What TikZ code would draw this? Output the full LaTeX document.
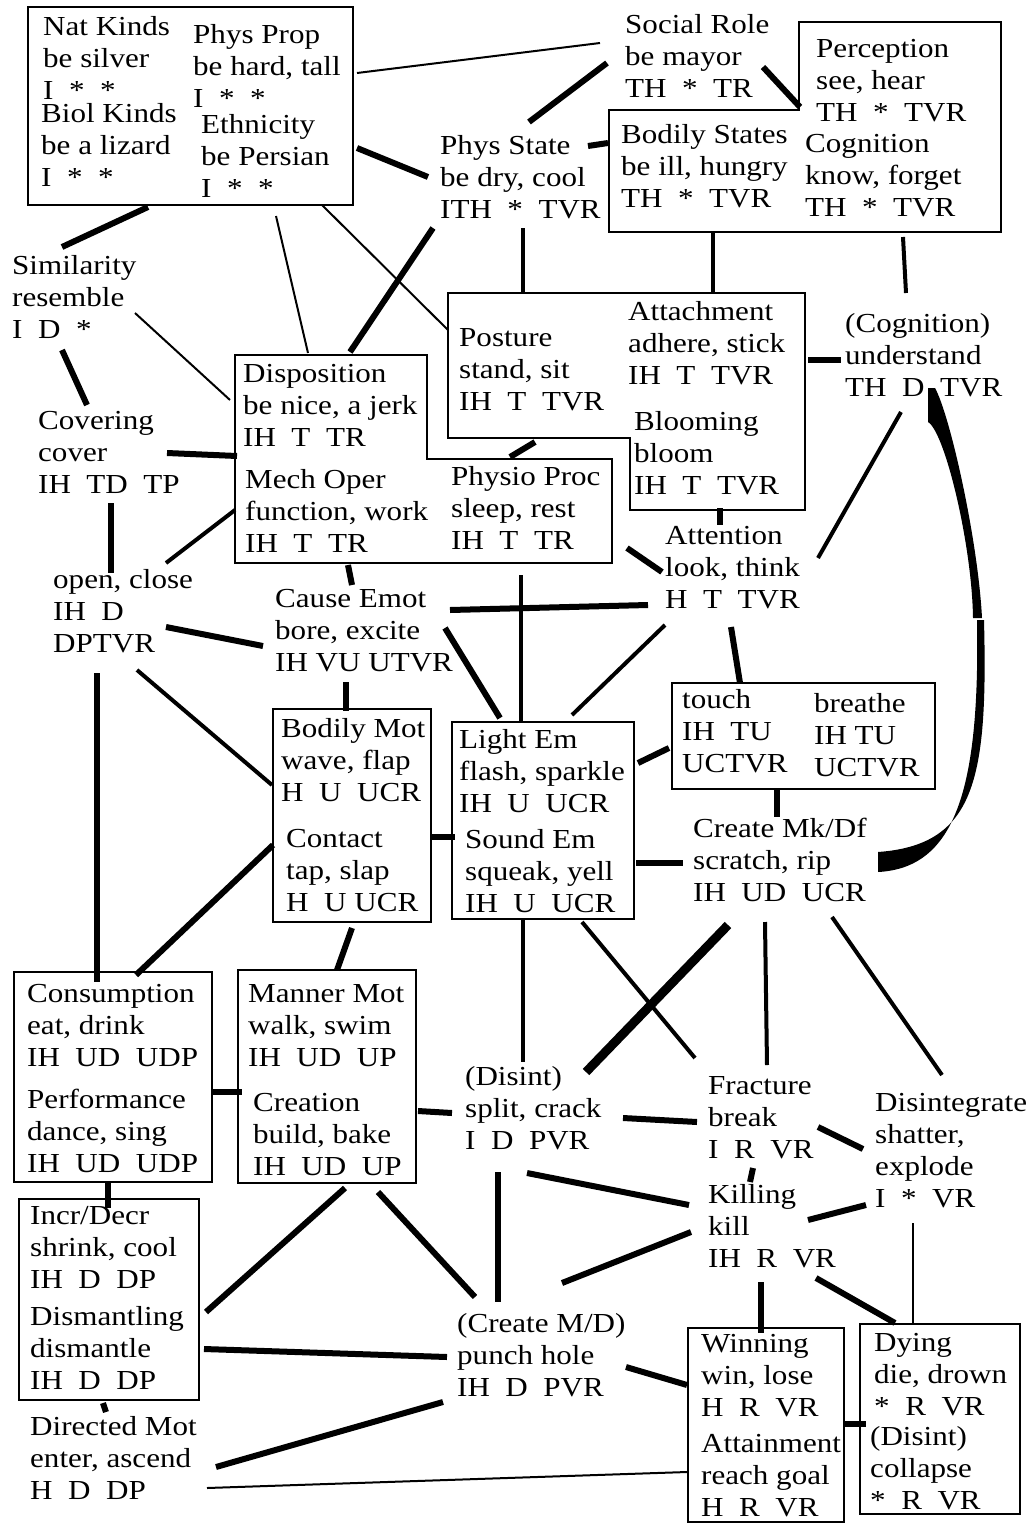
\documentclass[tikz,border=0pt]{standalone}
\usepackage{fontspec}
\setmainfont{Liberation Serif}[FakeStretch=1.13]
\tikzstyle{cat} = [anchor=north west, inner sep=0pt, align=left]
\tikzstyle{frame} = [draw, line width=2.5pt]
\tikzstyle{thin link} = [draw, line width=2pt]
\tikzstyle{mid link} = [draw, line width=4pt]
\tikzstyle{thick link} = [draw, line width=6pt]
\tikzstyle{heavy link} = [draw, line width=9pt]

\begin{document}
\begin{tikzpicture}[x=1pt, y=-1pt, font=\fontsize{27.5}{32}\selectfont]
                    \useasboundingbox (0,0) rectangle (1028,1524);

                    \draw[frame] (28,7) rectangle (353,205);
                    \draw[frame] (799,22) -- (1001,22) -- (1001,232) -- (609,232) -- (609,110) -- (799,110) -- cycle;
                    \draw[frame] (448,293) -- (805,293) -- (805,510) -- (630,510) -- (630,438) -- (448,438) -- cycle;
                    \draw[frame] (235,355) -- (427,355) -- (427,459) -- (612,459) -- (612,563) -- (235,563) -- cycle;
                    \draw[frame] (672,683) rectangle (935,789);
                    \draw[frame] (273,709) rectangle (431,922);
                    \draw[frame] (452,722) rectangle (634,919);
                    \draw[frame] (14,972) rectangle (212,1182);
                    \draw[frame] (238,970) rectangle (416,1183);
                    \draw[frame] (19,1199) rectangle (199,1400);
                    \draw[frame] (688,1328) rectangle (844,1522);
                    \draw[frame] (860,1324) rectangle (1020,1514);

                    \node[cat] (natkinds) at (43,16) {Nat Kinds\\be silver\\I~~*~~*};
                    \node[cat] (biolkinds) at (41,103) {Biol Kinds\\be a lizard\\I~~*~~*};
                    \node[cat] (physprop) at (193,24) {Phys Prop\\be hard, tall\\I~~*~~*};
                    \node[cat] (ethnicity) at (201,114) {Ethnicity\\be Persian\\I~~*~~*};
                    \node[cat] (socialrole) at (625,14) {Social Role\\be mayor\\TH~~*~~TR};
                    \node[cat] (perception) at (816,39) {Perception\\see, hear\\TH~~*~~TVR};
                    \node[cat] (bodilystates) at (621,124) {Bodily States\\be ill, hungry\\TH~~*~~TVR};
                    \node[cat] (cognition) at (805,134) {Cognition\\know, forget\\TH~~*~~TVR};
                    \node[cat] (physstate) at (440,135) {Phys State\\be dry, cool\\ITH~~*~~TVR};
                    \node[cat] (similarity) at (12,255) {Similarity\\resemble\\I~~D~~*};
                    \node[cat] (posture) at (459,328) {Posture\\stand, sit\\IH~~T~~TVR};
                    \node[cat] (attachment) at (628,301) {Attachment\\adhere, stick\\IH~~T~~TVR};
                    \node[cat] (blooming) at (634,411) {Blooming\\bloom\\IH~~T~~TVR};
                    \node[cat] (understand) at (845,313) {(Cognition)\\understand\\TH~~D~~TVR};
                    \node[cat] (disposition) at (243,364) {Disposition\\be nice, a jerk\\IH~~T~~TR};
                    \node[cat] (mechoper) at (245,469) {Mech Oper\\function, work\\IH~~T~~TR};
                    \node[cat] (physioproc) at (451,466) {Physio Proc\\sleep, rest\\IH~~T~~TR};
                    \node[cat] (covering) at (38,411) {Covering\\cover\\IH~~TD~~TP};
                    \node[cat] (openclose) at (53,569) {open, close\\IH~~D\\DPTVR};
                    \node[cat] (causeemot) at (275,589) {Cause Emot\\bore, excite\\IH VU UTVR};
                    \node[cat] (attention) at (665,526) {Attention\\look, think\\H~~T~~TVR};
                    \node[cat] (touch) at (682,689) {touch\\IH~~TU\\UCTVR};
                    \node[cat] (breathe) at (814,693) {breathe\\IH TU\\UCTVR};
                    \node[cat] (bodilymot) at (281,718) {Bodily Mot\\wave, flap\\H~~U~~UCR};
                    \node[cat] (contact) at (286,829) {Contact\\tap, slap\\H~~U UCR};
                    \node[cat] (lightem) at (459,729) {Light Em\\flash, sparkle\\IH~~U~~UCR};
                    \node[cat] (soundem) at (465,829) {Sound Em\\squeak, yell\\IH~~U~~UCR};
                    \node[cat] (createmkdf) at (693,818) {Create Mk/Df\\scratch, rip\\IH~~UD~~UCR};
                    \node[cat] (consumption) at (27,984) {Consumption\\eat, drink\\IH~~UD~~UDP};
                    \node[cat] (performance) at (27,1089) {Performance\\dance, sing\\IH~~UD~~UDP};
                    \node[cat] (mannermot) at (248,984) {Manner Mot\\walk, swim\\IH~~UD~~UP};
                    \node[cat] (creation) at (253,1093) {Creation\\build, bake\\IH~~UD~~UP};
                    \node[cat] (disintsplit) at (465,1066) {(Disint)\\split, crack\\I~~D~~PVR};
                    \node[cat] (fracture) at (708,1076) {Fracture\\break\\I~~R~~VR};
                    \node[cat] (disintegrate) at (875,1093) {Disintegrate\\shatter,\\explode\\I~~*~~VR};
                    \node[cat] (killing) at (708,1184) {Killing\\kill\\IH~~R~~VR};
                    \node[cat] (incrdecr) at (30,1206) {Incr/Decr\\shrink, cool\\IH~~D~~DP};
                    \node[cat] (dismantling) at (30,1306) {Dismantling\\dismantle\\IH~~D~~DP};
                    \node[cat] (directedmot) at (30,1416) {Directed Mot\\enter, ascend\\H~~D~~DP};
                    \node[cat] (createmd) at (457,1313) {(Create M/D)\\punch hole\\IH~~D~~PVR};
                    \node[cat] (winning) at (701,1334) {Winning\\win, lose\\H~~R~~VR};
                    \node[cat] (attainment) at (701,1434) {Attainment\\reach goal\\H~~R~~VR};
                    \node[cat] (dying) at (874,1333) {Dying\\die, drown\\*~~R~~VR};
                    \node[cat] (collapse) at (870,1426) {(Disint)\\collapse\\*~~R~~VR};

                    \draw[thin link] ([shift={(164,49)}]physprop.north west) -- ([shift={(-25,29)}]socialrole.north west);
                    \draw[thick link] ([shift={(156,34)}]ethnicity.north west) -- ([shift={(-12,42)}]physstate.north west);
                    \draw[thick link] ([shift={(107,104)}]biolkinds.north west) -- ([shift={(50,-8)}]similarity.north west);
                    \draw[thin link] ([shift={(75,102)}]ethnicity.north west) -- ([shift={(65,-11)}]disposition.north west);
                    \draw[thin link] ([shift={(121,91)}]ethnicity.north west) -- ([shift={(-11,2)}]posture.north west);
                    \draw[thick link] ([shift={(-18,49)}]socialrole.north west) -- ([shift={(89,-13)}]physstate.north west);
                    \draw[thick link] ([shift={(138,53)}]socialrole.north west) -- ([shift={(-16,68)}]perception.north west);
                    \draw[thick link] ([shift={(148,11)}]physstate.north west) -- ([shift={(-13,19)}]bodilystates.north west);
                    \draw[mid link] ([shift={(83,93)}]physstate.north west) -- ([shift={(64,-36)}]posture.north west);
                    \draw[mid link] ([shift={(92,108)}]bodilystates.north west) -- ([shift={(85,-8)}]attachment.north west);
                    \draw[mid link] ([shift={(98,103)}]cognition.north west) -- ([shift={(61,-20)}]understand.north west);
                    \draw[thick link] ([shift={(180,59)}]attachment.north west) -- ([shift={(-4,47)}]understand.north west);
                    \draw[thick link] ([shift={(-7,93)}]physstate.north west) -- ([shift={(107,-12)}]disposition.north west);
                    \draw[thin link] ([shift={(123,58)}]similarity.north west) -- ([shift={(-13,36)}]disposition.north west);
                    \draw[thick link] ([shift={(50,95)}]similarity.north west) -- ([shift={(49,-6)}]covering.north west);
                    \draw[thick link] ([shift={(129,42)}]covering.north west) -- ([shift={(-6,92)}]disposition.north west);
                    \draw[thick link] ([shift={(73,92)}]covering.north west) -- ([shift={(58,4)}]openclose.north west);
                    \draw[mid link] ([shift={(113,-6)}]openclose.north west) -- ([shift={(-10,41)}]mechoper.north west);
                    \draw[thick link] ([shift={(103,96)}]mechoper.north west) -- ([shift={(77,-4)}]causeemot.north west);
                    \draw[thick link] ([shift={(113,58)}]openclose.north west) -- ([shift={(-12,57)}]causeemot.north west);
                    \draw[thick link] ([shift={(44,104)}]openclose.north west) -- ([shift={(70,-2)}]consumption.north west);
                    \draw[mid link] ([shift={(84,101)}]openclose.north west) -- ([shift={(-9,67)}]bodilymot.north west);
                    \draw[thick link] ([shift={(71,93)}]causeemot.north west) -- ([shift={(65,-7)}]bodilymot.north west);
                    \draw[thick link] ([shift={(170,39)}]causeemot.north west) -- ([shift={(41,-11)}]lightem.north west);
                    \draw[thick link] ([shift={(175,21)}]causeemot.north west) -- ([shift={(-17,79)}]attention.north west);
                    \draw[mid link] ([shift={(70,109)}]physioproc.north west) -- ([shift={(62,-6)}]lightem.north west);
                    \draw[thick link] ([shift={(76,114)}]posture.north west) -- ([shift={(59,-9)}]physioproc.north west);
                    \draw[thick link] ([shift={(176,82)}]physioproc.north west) -- ([shift={(-3,46)}]attention.north west);
                    \draw[thick link] ([shift={(86,97)}]blooming.north west) -- ([shift={(55,-1)}]attention.north west);
                    \draw[mid link] ([shift={(56,99)}]understand.north west) -- ([shift={(153,32)}]attention.north west);
                    \draw[mid link] ([shift={(0,99)}]attention.north west) -- ([shift={(113,-14)}]lightem.north west);
                    \draw[thick link] ([shift={(66,101)}]attention.north west) -- ([shift={(58,-6)}]touch.north west);
                    \draw[thick link] ([shift={(179,34)}]lightem.north west) -- ([shift={(-13,59)}]touch.north west);
                    \draw[thick link] ([shift={(145,8)}]contact.north west) -- ([shift={(-10,8)}]soundem.north west);
                    \draw[thick link] ([shift={(-13,16)}]contact.north west) -- ([shift={(109,-9)}]consumption.north west);
                    \draw[thick link] ([shift={(66,99)}]contact.north west) -- ([shift={(89,-14)}]mannermot.north west);
                    \draw[thick link] ([shift={(95,100)}]touch.north west) -- ([shift={(84,-1)}]createmkdf.north west);
                    \draw[thick link] ([shift={(171,34)}]soundem.north west) -- ([shift={(-10,45)}]createmkdf.north west);
                    \draw[mid link] ([shift={(58,91)}]soundem.north west) -- ([shift={(58,-4)}]disintsplit.north west);
                    \draw[mid link] ([shift={(117,93)}]soundem.north west) -- ([shift={(-13,-18)}]fracture.north west);
                    \draw[heavy link] ([shift={(35,107)}]createmkdf.north west) -- ([shift={(121,6)}]disintsplit.north west);
                    \draw[mid link] ([shift={(72,104)}]createmkdf.north west) -- ([shift={(59,-11)}]fracture.north west);
                    \draw[mid link] ([shift={(139,99)}]createmkdf.north west) -- ([shift={(67,-18)}]disintegrate.north west);
                    \draw[thick link] ([shift={(185,3)}]performance.north west) -- ([shift={(-11,-1)}]creation.north west);
                    \draw[thick link] ([shift={(165,18)}]creation.north west) -- ([shift={(-13,47)}]disintsplit.north west);
                    \draw[thick link] ([shift={(158,52)}]disintsplit.north west) -- ([shift={(-11,46)}]fracture.north west);
                    \draw[thick link] ([shift={(110,51)}]fracture.north west) -- ([shift={(-12,56)}]disintegrate.north west);
                    \draw[thick link] ([shift={(45,92)}]fracture.north west) -- ([shift={(42,-2)}]killing.north west);
                    \draw[thick link] ([shift={(62,107)}]disintsplit.north west) -- ([shift={(-19,21)}]killing.north west);
                    \draw[thick link] ([shift={(33,106)}]disintsplit.north west) -- ([shift={(41,-11)}]createmd.north west);
                    \draw[thick link] ([shift={(-17,48)}]killing.north west) -- ([shift={(105,-30)}]createmd.north west);
                    \draw[thick link] ([shift={(100,36)}]killing.north west) -- ([shift={(-9,112)}]disintegrate.north west);
                    \draw[thin link] ([shift={(38,130)}]disintegrate.north west) -- ([shift={(39,-10)}]dying.north west);
                    \draw[thick link] ([shift={(108,94)}]killing.north west) -- ([shift={(21,-10)}]dying.north west);
                    \draw[thick link] ([shift={(53,98)}]killing.north west) -- ([shift={(60,-1)}]winning.north west);
                    \draw[thick link] ([shift={(169,54)}]createmd.north west) -- ([shift={(-14,51)}]winning.north west);
                    \draw[thick link] ([shift={(143,90)}]winning.north west) -- ([shift={(-4,-2)}]collapse.north west);
                    \draw[thin link] ([shift={(-14,38)}]attainment.north west) -- ([shift={(177,72)}]directedmot.north west);
                    \draw[thick link] ([shift={(81,94)}]performance.north west) -- ([shift={(78,2)}]incrdecr.north west);
                    \draw[thick link] ([shift={(73,97)}]dismantling.north west) -- ([shift={(76,-4)}]directedmot.north west);
                    \draw[thick link] ([shift={(92,95)}]creation.north west) -- ([shift={(176,6)}]dismantling.north west);
                    \draw[thick link] ([shift={(125,99)}]creation.north west) -- ([shift={(18,-16)}]createmd.north west);
                    \draw[thick link] ([shift={(174,43)}]dismantling.north west) -- ([shift={(-10,44)}]createmd.north west);
                    \draw[thick link] ([shift={(-14,89)}]createmd.north west) -- ([shift={(186,51)}]directedmot.north west);

                    \coordinate (arctop) at ([shift={(83,75)}]understand.north west);
                    \coordinate (arcmid) at ([shift={(54,230)}]arctop);
                    \coordinate (arcout) at ([shift={(185,34)}]createmkdf.north west);
                    \coordinate (arcin) at ([shift={(185,54)}]createmkdf.north west);
                    \fill ([shift={(7,0)}]arctop) .. controls ([shift={(22,27)}]arctop) and ([shift={(-4,-78)}]arcmid) .. (arcmid)
                        -- ([shift={(-9,0)}]arcmid)
                        .. controls ([shift={(-10,-73)}]arcmid) and ([shift={(17,44)}]arctop) .. ([shift={(0,34)}]arctop)
                        -- (arctop) -- cycle;
                    \fill ([shift={(2,2)}]arcmid) .. controls ([shift={(6,162)}]arcmid) and ([shift={(97,-7)}]arcout) .. (arcout)
                        -- (arcin)
                        .. controls ([shift={(77,-4)}]arcin) and ([shift={(-2,172)}]arcmid) .. ([shift={(-5,2)}]arcmid) -- cycle;
                \end{tikzpicture}
\end{document}
